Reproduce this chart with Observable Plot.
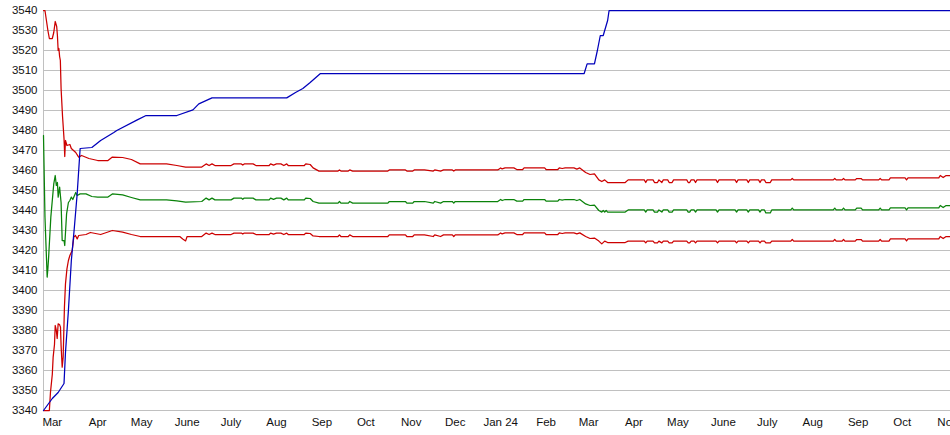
<!DOCTYPE html>
<html><head><meta charset="utf-8">
<script src="https://cdn.jsdelivr.net/npm/d3@7"></script>
<script src="https://cdn.jsdelivr.net/npm/@observablehq/plot@0.6"></script>
<style>html,body{margin:0;padding:0;background:#fff;overflow:hidden}</style>
</head><body><div id="chart"></div>
<script>
const xStart = "2023-02-23";
const xEnd = "2024-11-03";
const yTicks = [3340,3350,3360,3370,3380,3390,3400,3410,3420,3430,3440,3450,3460,3470,3480,3490,3500,3510,3520,3530,3540];
const monthTicks = ["2023-03-01","2023-04-01","2023-05-01","2023-06-01","2023-07-01","2023-08-01","2023-09-01","2023-10-01","2023-11-01","2023-12-01","2024-01-01","2024-02-01","2024-03-01","2024-04-01","2024-05-01","2024-06-01","2024-07-01","2024-08-01","2024-09-01","2024-10-01","2024-11-01"];
const monthLabels = ["Mar","Apr","May","June","July","Aug","Sep","Oct","Nov","Dec","Jan 24","Feb","Mar","Apr","May","June","July","Aug","Sep","Oct","Nov"];

const blueSeries = [
["2023-02-23",3340],["2023-03-01",3346],["2023-03-05",3349],["2023-03-09",3353.5],["2023-03-10",3369],["2023-03-12",3390],["2023-03-14",3415],["2023-03-16",3431],["2023-03-18",3448.5],["2023-03-20",3471],["2023-03-28",3471.5],["2023-04-03",3475],["2023-04-12",3479],["2023-04-14",3480],["2023-04-28",3485.3],["2023-05-04",3487.5],["2023-05-25",3487.5],["2023-06-05",3490.3],["2023-06-09",3493.3],["2023-06-18",3496.3],["2023-08-08",3496.3],["2023-08-14",3499],["2023-08-19",3501],["2023-08-24",3504],["2023-08-31",3508.5],["2024-02-27",3508.5],["2024-02-29",3513.3],["2024-03-05",3513.3],["2024-03-07",3520],["2024-03-09",3527.5],["2024-03-11",3527.5],["2024-03-14",3535],["2024-03-15",3540],["2024-11-03",3540]
];

const upperBand = [
["2023-02-23",3540],["2023-02-24",3540],["2023-02-25",3535],["2023-02-26",3530],["2023-02-27",3526],["2023-03-01",3526],["2023-03-02",3529],["2023-03-03",3534.5],["2023-03-04",3532],["2023-03-04T12",3527.5],["2023-03-05",3520],["2023-03-05T12",3521],["2023-03-06",3517],["2023-03-06T12",3515],["2023-03-07",3501],["2023-03-08",3487],["2023-03-09",3476],["2023-03-09T12",3467],["2023-03-10",3475],["2023-03-11",3472.5],["2023-03-13",3473],["2023-03-14",3471],["2023-03-17",3469],["2023-03-19",3466.7],["2023-03-21",3467.5],["2023-03-26",3466],["2023-04-01",3465],["2023-04-08",3465],["2023-04-11",3466.7],["2023-04-18",3466.5],["2023-04-24",3465.5],["2023-04-30",3463.3],["2023-05-18",3463.3],["2023-05-25",3462.5],["2023-05-31",3461.7],["2023-06-11",3461.7],["2023-06-14",3463.3],["2023-06-16",3462.5],["2023-06-18",3463.3],["2023-06-20",3462.5],["2023-07-01",3462.5],["2023-07-03",3463.3],["2023-07-08",3463.3],["2023-07-09",3462.7],["2023-07-10",3463.3],["2023-07-16",3463.3],["2023-07-18",3462.5],["2023-07-27",3462.5],["2023-07-28",3463.3],["2023-07-30",3462.7],["2023-08-01",3463.3],["2023-08-04",3463.3],["2023-08-06",3462.5],["2023-08-08",3463.3],["2023-08-09",3462.5],["2023-08-20",3462.5],["2023-08-21",3463.3],["2023-08-24",3463],["2023-08-26",3461.3],["2023-08-30",3459.7],["2023-09-12",3459.7],["2023-09-13",3460.3],["2023-09-14",3459.7],["2023-09-19",3459.7],["2023-09-20",3460.3],["2023-09-22",3459.7],["2023-10-16",3459.7],["2023-10-17",3460.3],["2023-10-28",3460.3],["2023-10-29",3459.7],["2023-11-02",3459.7],["2023-11-03",3460.3],["2023-11-10",3460.3],["2023-11-16",3459.7],["2023-11-17",3460.3],["2023-11-21",3459.7],["2023-11-23",3460.3],["2023-11-29",3460.3],["2023-11-30",3459.7],["2023-12-01",3460.3],["2023-12-30",3460.3],["2024-01-01",3461.3],["2024-01-02",3460.8],["2024-01-04",3461.3],["2024-01-10",3461.3],["2024-01-12",3460.5],["2024-01-16",3460.5],["2024-01-17",3461.3],["2024-01-31",3461.3],["2024-02-01",3460.5],["2024-02-09",3460.5],["2024-02-10",3461.3],["2024-02-12",3461],["2024-02-14",3461.3],["2024-02-20",3461.3],["2024-02-22",3460.7],["2024-02-24",3461.3],["2024-02-28",3459],["2024-03-02",3458],["2024-03-05",3458.3],["2024-03-08",3455.3],["2024-03-10",3454.5],["2024-03-12",3455.3],["2024-03-14",3454],["2024-03-26",3454],["2024-03-28",3455.3],["2024-04-08",3455.3],["2024-04-09",3454],["2024-04-10",3455.3],["2024-04-14",3455.3],["2024-04-15",3454],["2024-04-17",3454],["2024-04-18",3455.3],["2024-04-20",3454],["2024-04-21",3455.3],["2024-04-24",3455.3],["2024-04-25",3454],["2024-04-27",3454],["2024-04-28",3455.3],["2024-05-07",3455.3],["2024-05-08",3454],["2024-05-09",3454],["2024-05-10",3455.3],["2024-05-12",3455.3],["2024-05-13",3454],["2024-05-14",3455.3],["2024-05-27",3455.3],["2024-05-28",3454],["2024-05-29",3455.3],["2024-06-09",3455.3],["2024-06-10",3454],["2024-06-11",3455.3],["2024-06-17",3455.3],["2024-06-18",3454],["2024-06-19",3455.3],["2024-06-25",3455.3],["2024-06-26",3454],["2024-06-27",3455.3],["2024-06-29",3455.3],["2024-06-30",3454],["2024-07-03",3454],["2024-07-04",3455.3],["2024-07-17",3455.3],["2024-07-18",3456],["2024-07-19",3455.3],["2024-08-15",3455.3],["2024-08-16",3456],["2024-08-17",3455.3],["2024-08-21",3455.3],["2024-08-22",3456],["2024-08-23",3455.3],["2024-08-30",3455.3],["2024-08-31",3456],["2024-09-03",3456],["2024-09-04",3455.3],["2024-09-15",3455.3],["2024-09-16",3456],["2024-09-17",3455.3],["2024-09-22",3455.3],["2024-09-23",3456.3],["2024-10-03",3456.3],["2024-10-04",3455.3],["2024-10-05",3456.3],["2024-10-26",3456.3],["2024-10-27",3457.5],["2024-10-29",3456.5],["2024-10-31",3457.5],["2024-11-03",3457.5]
];

const middleLine = [
["2023-02-23",3477.5],["2023-02-24",3436.7],["2023-02-25",3416.7],["2023-02-25T12",3406.7],["2023-02-26",3411],["2023-02-26T12",3416.7],["2023-02-28",3436.7],["2023-03-02",3453.3],["2023-03-03",3457.5],["2023-03-03T18",3452.5],["2023-03-04T12",3454],["2023-03-05",3446.7],["2023-03-06",3451.7],["2023-03-07",3444],["2023-03-07T18",3425],["2023-03-09",3425],["2023-03-09T12",3422.5],["2023-03-10T18",3438.3],["2023-03-12",3444],["2023-03-13",3445],["2023-03-14",3446.7],["2023-03-15",3445.5],["2023-03-17",3449],["2023-03-18",3447.5],["2023-03-20",3448.3],["2023-03-24",3448.3],["2023-03-28",3447],["2023-04-01",3446.7],["2023-04-08",3446.7],["2023-04-11",3448.3],["2023-04-18",3447.8],["2023-04-24",3446.5],["2023-04-30",3445.3],["2023-05-18",3445.3],["2023-05-25",3444.8],["2023-05-31",3444.2],["2023-06-11",3444.5],["2023-06-14",3446.2],["2023-06-16",3445.3],["2023-06-18",3446.2],["2023-06-20",3445.3],["2023-07-01",3445.3],["2023-07-03",3446.2],["2023-07-08",3446.2],["2023-07-09",3445.6],["2023-07-10",3446.2],["2023-07-16",3446.2],["2023-07-18",3445.3],["2023-07-27",3445.3],["2023-07-28",3446.2],["2023-07-30",3445.6],["2023-08-01",3446.2],["2023-08-04",3446.2],["2023-08-06",3445.3],["2023-08-08",3446.2],["2023-08-09",3445.3],["2023-08-20",3445.3],["2023-08-21",3446.2],["2023-08-24",3446],["2023-08-26",3444.5],["2023-08-30",3443.7],["2023-09-12",3443.7],["2023-09-13",3444.5],["2023-09-14",3443.7],["2023-09-19",3443.7],["2023-09-20",3444.5],["2023-09-22",3443.7],["2023-10-16",3443.7],["2023-10-17",3444.5],["2023-10-28",3444.5],["2023-10-29",3443.7],["2023-11-02",3443.7],["2023-11-03",3444.5],["2023-11-10",3444.5],["2023-11-16",3443.7],["2023-11-17",3444.5],["2023-11-21",3443.7],["2023-11-23",3444.5],["2023-11-29",3444.5],["2023-11-30",3443.7],["2023-12-01",3444.5],["2023-12-30",3444.5],["2024-01-01",3445.5],["2024-01-02",3445],["2024-01-04",3445.5],["2024-01-10",3445.5],["2024-01-12",3444.7],["2024-01-16",3444.7],["2024-01-17",3445.5],["2024-01-31",3445.5],["2024-02-01",3444.7],["2024-02-09",3444.7],["2024-02-10",3445.5],["2024-02-12",3445.2],["2024-02-14",3445.5],["2024-02-20",3445.5],["2024-02-22",3445],["2024-02-24",3445.5],["2024-02-28",3443.3],["2024-03-02",3442.5],["2024-03-05",3442.7],["2024-03-08",3440],["2024-03-10",3439.2],["2024-03-11",3440],["2024-03-12",3439.2],["2024-03-13",3440],["2024-03-14",3439.2],["2024-03-26",3439.2],["2024-03-28",3440.3],["2024-04-08",3440.3],["2024-04-09",3439.2],["2024-04-10",3440.3],["2024-04-14",3440.3],["2024-04-15",3439.2],["2024-04-17",3439.2],["2024-04-18",3440.3],["2024-04-20",3439.2],["2024-04-21",3440.3],["2024-04-24",3440.3],["2024-04-25",3439.2],["2024-04-27",3439.2],["2024-04-28",3440.3],["2024-05-07",3440.3],["2024-05-08",3439.2],["2024-05-09",3439.2],["2024-05-10",3440.3],["2024-05-12",3440.3],["2024-05-13",3439.2],["2024-05-14",3440.3],["2024-05-27",3440.3],["2024-05-28",3439.2],["2024-05-29",3440.3],["2024-06-09",3440.3],["2024-06-10",3439.2],["2024-06-11",3440.3],["2024-06-17",3440.3],["2024-06-18",3439.2],["2024-06-19",3440.3],["2024-06-25",3440.3],["2024-06-26",3439.2],["2024-06-27",3440.3],["2024-06-29",3440.3],["2024-06-30",3438.8],["2024-07-03",3438.8],["2024-07-04",3440.3],["2024-07-17",3440.3],["2024-07-18",3441.2],["2024-07-19",3440.3],["2024-08-15",3440.3],["2024-08-16",3441.2],["2024-08-17",3440.3],["2024-08-21",3440.3],["2024-08-22",3441.2],["2024-08-23",3440.3],["2024-08-30",3440.3],["2024-08-31",3441.2],["2024-09-03",3441.2],["2024-09-04",3440.3],["2024-09-15",3440.3],["2024-09-16",3441.2],["2024-09-17",3440.3],["2024-09-22",3440.3],["2024-09-23",3441.3],["2024-10-03",3441.3],["2024-10-04",3440.3],["2024-10-05",3441.3],["2024-10-26",3441.3],["2024-10-27",3442.5],["2024-10-29",3441.5],["2024-10-31",3442.5],["2024-11-03",3442.5]
];

const lowerBand = [
["2023-02-23",3340],["2023-02-27",3340],["2023-02-27T18",3349],["2023-03-01",3358],["2023-03-01T14",3366.7],["2023-03-02T12",3373],["2023-03-03",3382.5],["2023-03-03T18",3380],["2023-03-04T08",3376],["2023-03-05",3383.3],["2023-03-05T22",3383],["2023-03-06T14",3381.7],["2023-03-07",3372.5],["2023-03-07T18",3361.7],["2023-03-08T10",3366.7],["2023-03-09T07",3391.7],["2023-03-10",3403.3],["2023-03-11",3410.8],["2023-03-12",3415],["2023-03-13",3417.5],["2023-03-14T14",3420],["2023-03-15T16",3426.7],["2023-03-16T19",3427.5],["2023-03-18",3425.8],["2023-03-19",3427.5],["2023-03-24",3428],["2023-03-27",3429],["2023-04-03",3428],["2023-04-11",3430],["2023-04-18",3429.2],["2023-04-24",3428],["2023-04-30",3427],["2023-05-27",3427],["2023-05-29",3425.8],["2023-05-31",3424.8],["2023-06-01",3427],["2023-06-11",3427],["2023-06-14",3428.7],["2023-06-16",3428],["2023-06-18",3428.7],["2023-06-20",3428],["2023-07-01",3428],["2023-07-03",3428.7],["2023-07-08",3428.7],["2023-07-09",3428.2],["2023-07-10",3428.7],["2023-07-16",3428.7],["2023-07-18",3428],["2023-07-27",3428],["2023-07-28",3428.7],["2023-07-30",3428.2],["2023-08-01",3428.7],["2023-08-04",3428.7],["2023-08-06",3428],["2023-08-08",3428.7],["2023-08-09",3428],["2023-08-20",3428],["2023-08-21",3428.7],["2023-08-24",3428.5],["2023-08-26",3427.3],["2023-08-30",3427],["2023-09-12",3427],["2023-09-13",3427.8],["2023-09-14",3427],["2023-09-19",3427],["2023-09-20",3427.8],["2023-09-22",3427],["2023-10-16",3427],["2023-10-17",3427.8],["2023-10-28",3427.8],["2023-10-29",3427],["2023-11-02",3427],["2023-11-03",3427.8],["2023-11-10",3427.8],["2023-11-16",3427],["2023-11-17",3427.8],["2023-11-21",3427],["2023-11-23",3427.8],["2023-11-29",3427.8],["2023-11-30",3427],["2023-12-01",3427.8],["2023-12-30",3427.8],["2024-01-01",3428.8],["2024-01-02",3428.3],["2024-01-04",3428.8],["2024-01-10",3428.8],["2024-01-12",3428],["2024-01-16",3428],["2024-01-17",3428.8],["2024-01-31",3428.8],["2024-02-01",3428],["2024-02-09",3428],["2024-02-10",3428.8],["2024-02-12",3428.5],["2024-02-14",3428.8],["2024-02-20",3428.8],["2024-02-22",3428.3],["2024-02-24",3428.8],["2024-02-28",3427],["2024-03-02",3426],["2024-03-05",3426.2],["2024-03-08",3424.7],["2024-03-10",3423.3],["2024-03-12",3424.7],["2024-03-14",3424],["2024-03-26",3424],["2024-03-28",3424.7],["2024-04-08",3424.7],["2024-04-09",3423.8],["2024-04-10",3424.7],["2024-04-14",3424.7],["2024-04-15",3423.8],["2024-04-17",3423.8],["2024-04-18",3424.7],["2024-04-20",3423.8],["2024-04-21",3424.7],["2024-04-24",3424.7],["2024-04-25",3423.8],["2024-04-27",3423.8],["2024-04-28",3424.7],["2024-05-07",3424.7],["2024-05-08",3423.8],["2024-05-09",3423.8],["2024-05-10",3424.7],["2024-05-12",3424.7],["2024-05-13",3423.8],["2024-05-14",3424.7],["2024-05-27",3424.7],["2024-05-28",3423.8],["2024-05-29",3424.7],["2024-06-09",3424.7],["2024-06-10",3423.8],["2024-06-11",3424.7],["2024-06-17",3424.7],["2024-06-18",3423.8],["2024-06-19",3424.7],["2024-06-25",3424.7],["2024-06-26",3423.8],["2024-06-27",3424.7],["2024-06-29",3424.7],["2024-06-30",3423.8],["2024-07-03",3423.8],["2024-07-04",3424.7],["2024-07-17",3424.7],["2024-07-18",3425.5],["2024-07-19",3424.7],["2024-08-15",3424.7],["2024-08-16",3425.5],["2024-08-17",3424.7],["2024-08-21",3424.7],["2024-08-22",3425.5],["2024-08-23",3424.7],["2024-08-30",3424.7],["2024-08-31",3425.5],["2024-09-03",3425.5],["2024-09-04",3424.7],["2024-09-15",3424.7],["2024-09-16",3425.5],["2024-09-17",3424.7],["2024-09-22",3424.7],["2024-09-23",3425.8],["2024-10-03",3425.8],["2024-10-04",3424.8],["2024-10-05",3425.8],["2024-10-26",3425.8],["2024-10-27",3427],["2024-10-29",3426],["2024-10-31",3427],["2024-11-03",3427]
];

const parse = s => new Date(s.length === 10 ? s + "T00:00:00Z" : s + ":00:00Z");
const rows = arr => arr.map(([d, v]) => ({date: parse(d), value: v}));
const labelByTime = new Map(monthTicks.map((m, i) => [parse(m).getTime(), monthLabels[i]]));

const chart = Plot.plot({
  width: 950,
  height: 435,
  marginLeft: 43,
  marginRight: 0,
  marginTop: 10,
  marginBottom: 25,
  style: {fontFamily: "'Liberation Sans', Arial, sans-serif", fontSize: "11.5px", color: "#111", background: "#fff", overflow: "visible"},
  x: {type: "utc", domain: [parse(xStart), parse(xEnd)], ticks: monthTicks.map(parse), tickFormat: d => labelByTime.get(d.getTime()) ?? "", tickSize: 0, tickPadding: 7, label: null},
  y: {domain: [3340, 3540], ticks: yTicks, tickFormat: d => String(d), tickSize: 0, tickPadding: 6, label: null},
  marks: [
    Plot.ruleY(yTicks, {stroke: "#c0c0c0", strokeWidth: 1}),
    Plot.ruleX([parse(xStart)], {stroke: "#c0c0c0", strokeWidth: 1}),
    Plot.line(rows(lowerBand), {x: "date", y: "value", stroke: "#cc0000", strokeWidth: 1.25}),
    Plot.line(rows(middleLine), {x: "date", y: "value", stroke: "#0a820a", strokeWidth: 1.25}),
    Plot.line(rows(upperBand), {x: "date", y: "value", stroke: "#cc0000", strokeWidth: 1.25}),
    Plot.line(rows(blueSeries), {x: "date", y: "value", stroke: "#0000bb", strokeWidth: 1.25})
  ]
});
document.getElementById("chart").appendChild(chart);
</script>
</body></html>
